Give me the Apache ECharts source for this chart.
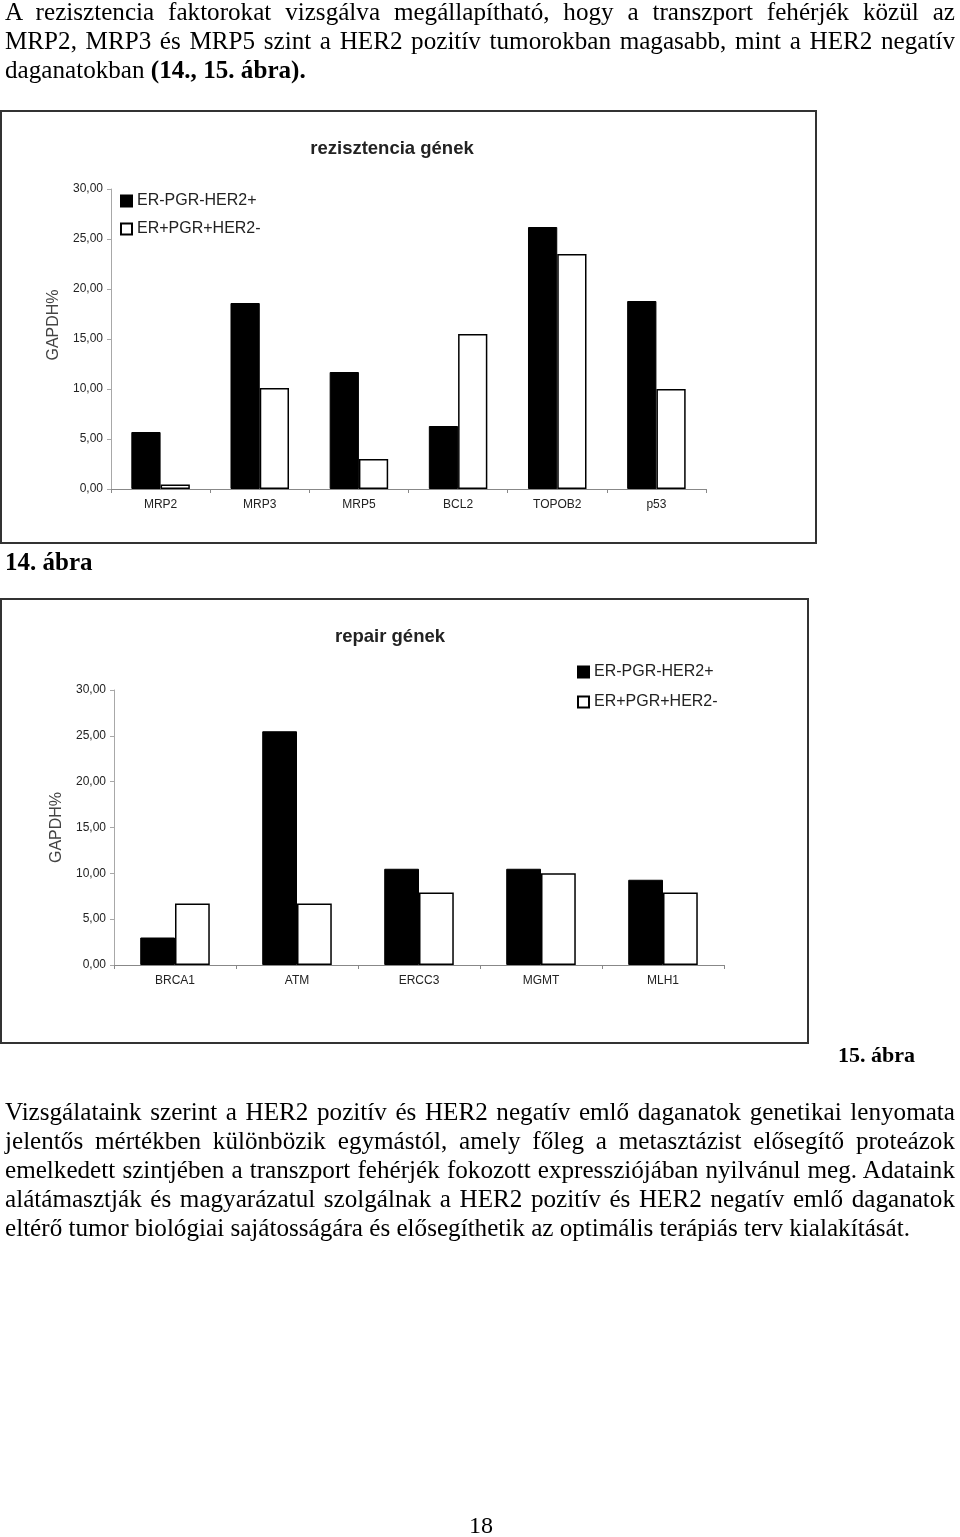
<!DOCTYPE html>
<html>
<head>
<meta charset="utf-8">
<script src="https://cdn.jsdelivr.net/npm/echarts@6/dist/echarts.min.js"></script>
<style>
  html, body { margin: 0; padding: 0; background: #fff; }
  body { width: 960px; height: 1537px; position: relative; overflow: hidden; }
  #chart { position: absolute; left: 0; top: 0; width: 960px; height: 1537px; }
  .txt { position: absolute; font-family: "Liberation Serif", "Times New Roman", serif; font-size: 24px; line-height: 29px; color: #000; }
  .para { left: 5px; transform-origin: 0 0; font-size: 26px; }
  .para div { text-align: justify; text-align-last: justify; white-space: normal; }
  .para div.last { text-align: left; text-align-last: left; }
  b { font-weight: bold; }
</style>
</head>
<body>
<div id="chart"></div>

<div class="txt para" id="p1" style="top:-3px">
  <div>A rezisztencia faktorokat vizsgálva megállapítható, hogy a transzport fehérjék közül az</div>
  <div>MRP2, MRP3 és MRP5 szint a HER2 pozitív tumorokban magasabb, mint a HER2 negatív</div>
  <div class="last">daganatokban <b>(14., 15. ábra).</b></div>
</div>

<div class="txt" style="left:5px; top:547px; font-weight:bold; font-size:25px;">14. ábra</div>
<div class="txt" style="left:700px; width:215px; text-align:right; top:1040px; font-weight:bold; font-size:22px;">15. ábra</div>

<div class="txt para" id="p2" style="top:1097px">
  <div>Vizsgálataink szerint a HER2 pozitív és HER2 negatív emlő daganatok genetikai lenyomata</div>
  <div>jelentős mértékben különbözik egymástól, amely főleg a metasztázist elősegítő proteázok</div>
  <div>emelkedett szintjében a transzport fehérjék fokozott expressziójában nyilvánul meg. Adataink</div>
  <div>alátámasztják és magyarázatul szolgálnak a HER2 pozitív és HER2 negatív emlő daganatok</div>
  <div class="last" id="p2last"><span id="p2span">eltérő tumor biológiai sajátosságára és elősegíthetik az optimális terápiás terv kialakítását.</span></div>
</div>

<div class="txt" style="left:430px; width:102px; text-align:center; top:1511px;">18</div>

<script>
// ---------- data ----------
var resCategories = ['MRP2', 'MRP3', 'MRP5', 'BCL2', 'TOPOB2', 'p53'];
var resHer2Pos = [5.7, 18.6, 11.7, 6.3, 26.2, 18.8];   // ER-PGR-HER2+
var resHer2Neg = [0.45, 10.1, 3.0, 15.5, 23.5, 10.0];  // ER+PGR+HER2-

var repCategories = ['BRCA1', 'ATM', 'ERCC3', 'MGMT', 'MLH1'];
var repHer2Pos = [3.0, 25.5, 10.5, 10.5, 9.3];
var repHer2Neg = [6.7, 6.7, 7.9, 10.0, 7.9];

var seriesNames = ['ER-PGR-HER2+', 'ER+PGR+HER2-'];
var yTicks = [0, 5, 10, 15, 20, 25, 30];
var titles = ['rezisztencia gének', 'repair gének'];
var yName = 'GAPDH%';

// ---------- text fitting (condensed serif) ----------
(function () {
  var span = document.getElementById('p2span');
  var w = span.getBoundingClientRect().width;
  var s = 905 / w;
  ['p1', 'p2'].forEach(function (id) {
    var el = document.getElementById(id);
    el.style.width = (950 / s) + 'px';
    el.style.transform = 'scaleX(' + s + ')';
  });
})();

// ---------- chart ----------
var SANS = '"Liberation Sans", Arial, sans-serif';
function fmt(v) { return v.toFixed(2).replace('.', ','); }

function yAxisDef(gridIndex, nameGap, namePad) {
  return {
    type: 'value', gridIndex: gridIndex, min: yTicks[0], max: yTicks[yTicks.length - 1], interval: yTicks[1] - yTicks[0],
    name: yName, nameLocation: 'middle', nameRotate: 90, nameGap: nameGap,
    nameTextStyle: { fontFamily: SANS, fontSize: 16, color: '#444', padding: namePad },
    axisLine: { show: true, lineStyle: { color: '#a8a8a8', width: 1 } },
    axisTick: { show: true, length: 4, lineStyle: { color: '#a8a8a8' } },
    splitLine: { show: false },
    axisLabel: { formatter: fmt, fontFamily: SANS, fontSize: 12, color: '#222', margin: 8 }
  };
}
function xAxisDef(gridIndex, cats) {
  return {
    type: 'category', gridIndex: gridIndex, data: cats, boundaryGap: true,
    axisLine: { show: true, lineStyle: { color: '#888', width: 1 } },
    axisTick: { show: true, length: 4, lineStyle: { color: '#888' } },
    axisLabel: { fontFamily: SANS, fontSize: 12, color: '#222', margin: 10 }
  };
}
function barSeries(name, data, axisIdx, black, gapPct) {
  return {
    type: 'bar', name: name, data: data, xAxisIndex: axisIdx, yAxisIndex: axisIdx,
    barGap: '0%', barCategoryGap: gapPct,
    itemStyle: black ? { color: '#000', borderColor: '#000', borderWidth: 1 }
                     : { color: '#fff', borderColor: '#000', borderWidth: 1.5 },
    emphasis: { disabled: true },
    animation: false
  };
}

var chart = echarts.init(document.getElementById('chart'), null, { renderer: 'canvas' });
chart.setOption({
  backgroundColor: 'transparent',
  animation: false,
  grid: [
    { left: 111, top: 189, width: 595, height: 300 },
    { left: 114, top: 690, width: 610, height: 275 }
  ],
  xAxis: [xAxisDef(0, resCategories), xAxisDef(1, repCategories)],
  yAxis: [yAxisDef(0, 47, [0, 0, 0, 28]), yAxisDef(1, 47, 0)],
  legend: [
    {
      orient: 'vertical', left: 120, top: 193, padding: 0, itemGap: 12,
      itemWidth: 11, itemHeight: 11, icon: 'rect', selectedMode: false,
      data: seriesNames,
      textStyle: { fontFamily: SANS, fontSize: 16, color: '#222', lineHeight: 16 }
    },
    {
      orient: 'vertical', left: 577, top: 664, padding: 0, itemGap: 14,
      itemWidth: 11, itemHeight: 11, icon: 'rect', selectedMode: false,
      data: seriesNames,
      textStyle: { fontFamily: SANS, fontSize: 16, color: '#222', lineHeight: 16 }
    }
  ],
  series: [
    barSeries(seriesNames[0], resHer2Pos, 0, true, '41%'),
    barSeries(seriesNames[1], resHer2Neg, 0, false, '41%'),
    barSeries(seriesNames[0], repHer2Pos, 1, true, '43%'),
    barSeries(seriesNames[1], repHer2Neg, 1, false, '43%')
  ],
  graphic: [
    { type: 'rect', shape: { x: 1, y: 111, width: 815, height: 432 }, style: { fill: 'none', stroke: '#333', lineWidth: 2 }, silent: true },
    { type: 'rect', shape: { x: 1, y: 599, width: 807, height: 444 }, style: { fill: 'none', stroke: '#333', lineWidth: 2 }, silent: true },
    { type: 'text', x: 392, y: 149, style: { text: titles[0], fontFamily: SANS, fontSize: 18.5, fontWeight: 'bold', fill: '#222', textAlign: 'center', textVerticalAlign: 'middle' }, silent: true },
    { type: 'text', x: 390, y: 637, style: { text: titles[1], fontFamily: SANS, fontSize: 18.5, fontWeight: 'bold', fill: '#222', textAlign: 'center', textVerticalAlign: 'middle' }, silent: true }
  ]
});
</script>
</body>
</html>
